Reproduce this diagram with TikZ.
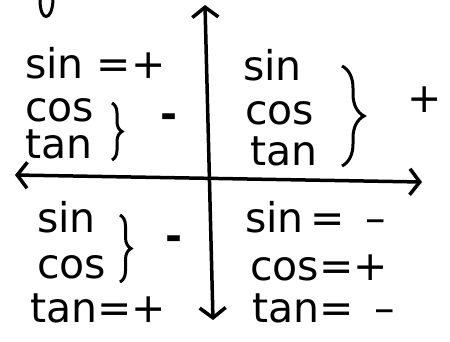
\documentclass[tikz,border=0pt]{standalone}
\usepackage{fontspec}
\setmainfont{DejaVu Sans}
\usetikzlibrary{arrows.meta, decorations.pathreplacing}

\begin{document}
\begin{tikzpicture}[x=1pt, y=-1pt,
      lbl/.style={anchor=base west, inner sep=0pt, font=\fontsize{41}{44}\selectfont},
      sgn/.style={inner sep=0pt, font=\fontsize{41}{44}\selectfont},
      axis/.style={line width=3.5pt, line cap=round,
                   {Straight Barb[length=10pt, width=26pt, line width=3.5pt]}-{Straight Barb[length=10pt, width=26pt, line width=3.5pt]}},
      brc/.style={line width=3pt, decorate, decoration={brace, amplitude=#1}}]
    \useasboundingbox (0,0) rectangle (450,341);
    % axes
    \coordinate (top) at (205,5);   \coordinate (bot) at (213,320);
    \coordinate (lft) at (15,175);  \coordinate (rgt) at (422,182);
    \draw[axis] (bot) -- (top);
    \draw[axis] (lft) -- (rgt);
    \draw[line width=3pt, line cap=round] (40,0) .. controls (40,22) and (52,22) .. (53,0);
    % quadrant II
    \node[lbl] (q2sin) at (25,78)  {sin =+};
    \node[lbl] (q2cos) at (25,121) {cos};
    \node[lbl] (q2tan) at (25,158) {tan};
    \draw[brc=10pt] (112,103) -- (112,160);
    \node[sgn] (q2s) at (169,121) {\textbf{-}};
    % quadrant I
    \node[lbl] (q1sin) at (243,80)  {sin};
    \node[lbl] (q1cos) at (245,124) {cos};
    \node[lbl] (q1tan) at (250,165) {tan};
    \draw[brc=22pt] (342,66) -- (342,166);
    \node[sgn] (q1s) at (425,100) {+};
    % quadrant III
    \node[lbl] (q3sin) at (37,232)  {sin};
    \node[lbl] (q3cos) at (37,278)  {cos};
    \node[lbl] (q3tan) at (30,322)  {tan=+};
    \draw[brc=11pt] (120,215) -- (120,282);
    \node[sgn] (q3s) at (174,243) {\textbf{-}};
    % quadrant IV
    \node[lbl] (q4sin) at (245,232) {sin\,=\enspace–};
    \node[lbl] (q4cos) at (250,280) {cos=+};
    \node[lbl] (q4tan) at (252,322) {tan=\enspace–};
  \end{tikzpicture}
\end{document}
